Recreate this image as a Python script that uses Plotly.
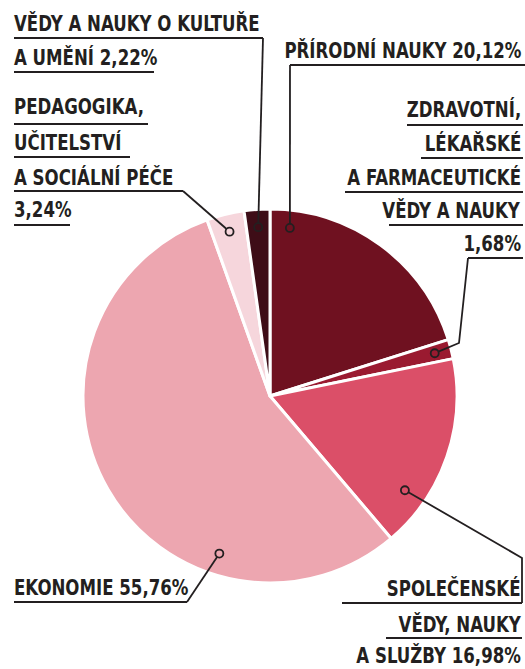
import plotly.graph_objects as go
import math
import json

# ---- data ----
categories = ["Přírodní nauky", "Zdravotní, lékařské a farmaceutické vědy a nauky",
              "Společenské vědy, nauky a služby", "Ekonomie",
              "Pedagogika, učitelství a sociální péče", "Vědy a nauky o kultuře a umění"]
values = [20.12, 1.68, 16.98, 55.76, 3.24, 2.22]
colors = ["#6f1120", "#9a1a30", "#db4f68", "#eda6b0", "#f6d6dc", "#3e0d17"]

label_lines = [
    ["PŘÍRODNÍ NAUKY 20,12%"],
    ["ZDRAVOTNÍ,", "LÉKAŘSKÉ", "A FARMACEUTICKÉ", "VĚDY A NAUKY", "1,68%"],
    ["SPOLEČENSKÉ", "VĚDY, NAUKY", "A SLUŽBY 16,98%"],
    ["EKONOMIE 55,76%"],
    ["PEDAGOGIKA,", "UČITELSTVÍ", "A SOCIÁLNÍ PÉČE", "3,24%"],
    ["VĚDY A NAUKY O KULTUŘE", "A UMĚNÍ 2,22%"],
]

# ---- layout / style (pixel geometry) ----
W, H = 525, 669
CX, CY, R = 270, 396, 187
FONT = "DejaVu Sans Condensed, Liberation Sans Narrow, sans-serif"
FS = 20.5
SCALE_X = 0.9
INK = "#231f20"

anchor_frac = [0.093, 0.5, 0.76, 0.29, 0.5, 0.5]
anchor_r = [0.905, 0.91, 0.88, 0.885, 0.905, 0.905]

text_pos = [
    (522, "right", [50]),
    (522, "right", [109, 143, 177, 210, 244]),
    (522, "right", [588, 624, 655]),
    (13, "left", [588]),
    (13, "left", [107, 142, 177, 210]),
    (13, "left", [23, 57]),
]
underlines = [
    [(290, 525, 65)],
    [(407, 523, 125), (421, 523, 158), (345, 523, 192), (389, 523, 225), (468, 523, 258)],
    [(342, 522, 603), (386, 522, 638)],
    [(14, 187, 602)],
    [(14, 148, 124), (14, 130, 157), (14, 183, 191), (14, 70, 225)],
    [(14, 263, 38), (14, 154, 72)],
]
leader_knots = [
    [(290, 65)],
    [(468, 258), (459, 343)],
    [(522, 603), (522, 558)],
    [(187, 602)],
    [(183, 191)],
    [(263, 38)],
]

# ---- compute anchor points from slice angles ----
total = sum(values)
anchors = []
cum = 0.0
for v, f, rf in zip(values, anchor_frac, anchor_r):
    a0 = cum / total * 360
    a1 = (cum + v) / total * 360
    ang = math.radians(a0 + f * (a1 - a0))
    anchors.append((CX + rf * R * math.sin(ang), CY - rf * R * math.cos(ang)))
    cum += v

fig = go.Figure()
fig.add_trace(go.Pie(
    labels=categories, values=values, sort=False, direction="clockwise", rotation=0,
    marker=dict(colors=colors, line=dict(color="white", width=3)),
    textinfo="none", hoverinfo="skip", showlegend=False,
    domain=dict(x=[(CX - R) / W, (CX + R) / W], y=[1 - (CY + R) / H, 1 - (CY - R) / H]),
))

shapes = []
annotations = []
anchors_side = []
CR = 4
for i in range(len(values)):
    ax, ay = anchors[i]
    pts = leader_knots[i] + [(ax, ay)]
    px, py = pts[-2]
    d = math.hypot(ax - px, ay - py)
    ex, ey = ax - (ax - px) / d * CR, ay - (ay - py) / d * CR
    pts = pts[:-1] + [(ex, ey)]
    path = "M " + " L ".join(f"{x:.1f},{y:.1f}" for x, y in pts)
    shapes.append(dict(type="path", xref="x", yref="y", path=path,
                       line=dict(color=INK, width=1.8)))
    shapes.append(dict(type="circle", xref="x", yref="y",
                       x0=ax - CR, x1=ax + CR, y0=ay - CR, y1=ay + CR,
                       line=dict(color=INK, width=1.8), fillcolor="rgba(0,0,0,0)"))
    for (x0, x1, y) in underlines[i]:
        shapes.append(dict(type="line", xref="x", yref="y", x0=x0, x1=x1, y0=y, y1=y,
                           line=dict(color=INK, width=1.8)))
    tx, anc, ys = text_pos[i]
    for line, y in zip(label_lines[i], ys):
        annotations.append(dict(x=tx, y=y, xref="x", yref="y", text=line, showarrow=False,
                                xanchor=anc, yanchor="middle", borderpad=0,
                                font=dict(family=FONT, size=FS, color=INK, weight="bold")))
        anchors_side.append(anc)

fig.update_layout(
    width=W, height=H, margin=dict(l=0, r=0, t=0, b=0),
    paper_bgcolor="white", plot_bgcolor="rgba(0,0,0,0)",
    xaxis=dict(range=[0, W], visible=False, domain=[0, 1], fixedrange=True),
    yaxis=dict(range=[H, 0], visible=False, domain=[0, 1], fixedrange=True),
    shapes=shapes, annotations=annotations,
)

post = """
document.body.style.margin='0';
document.body.style.overflow='hidden';
var sides = %s;
var els = document.querySelectorAll('.annotation-text');
els.forEach(function(el, i){
  el.style.transformBox = 'fill-box';
  el.style.transformOrigin = (sides[i] === 'right' ? 'right' : 'left') + ' center';
  el.style.transform = 'scaleX(%s)';
});
""" % (json.dumps(anchors_side), SCALE_X)

fig.write_html("out.html", config={"displayModeBar": False}, post_script=post)
